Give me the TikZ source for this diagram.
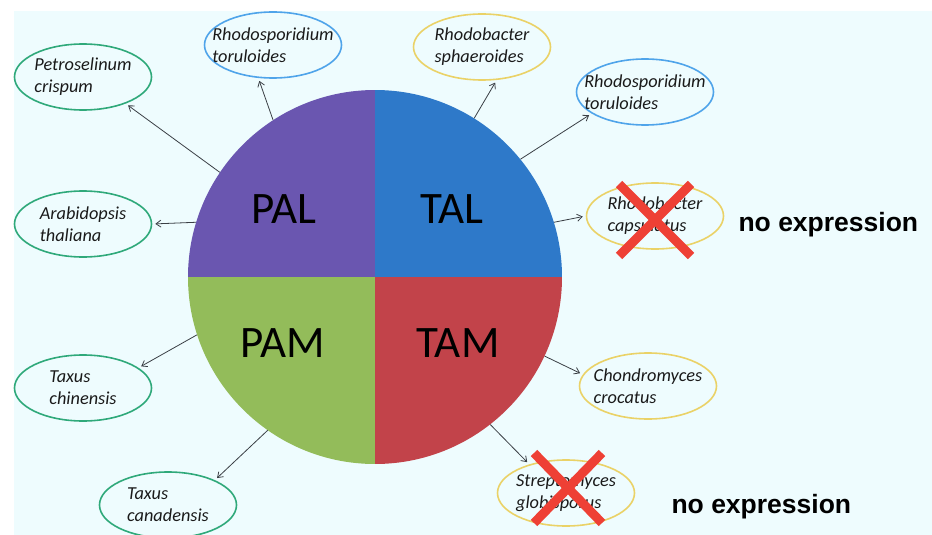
\documentclass[tikz,border=0pt]{standalone}
\usepackage{fontspec}
\setmainfont{Carlito}
\newfontfamily\arialfont{Liberation Sans}
\usetikzlibrary{arrows.meta, shapes.geometric}
\definecolor{bgcyan}{HTML}{EEFCFE}
\definecolor{palcol}{HTML}{6A56B0}
\definecolor{talcol}{HTML}{2E79C9}
\definecolor{pamcol}{HTML}{93BC5A}
\definecolor{tamcol}{HTML}{C2434A}
\definecolor{greenring}{HTML}{2FA97A}
\definecolor{bluering}{HTML}{4FA4EA}
\definecolor{yellowring}{HTML}{EAD267}
\definecolor{xred}{HTML}{EE4035}
\definecolor{linkgray}{HTML}{3A3F45}
\definecolor{txtdark}{HTML}{1A1A1A}

\begin{document}
\begin{tikzpicture}[x=1pt, y=-1pt,
  every node/.style={font=\fontsize{17}{21}\selectfont},
  organism/.style={ellipse, draw, line width=1.6pt, minimum width=137pt, minimum height=66pt, inner xsep=-16pt, inner ysep=2pt, align=left, font=\fontsize{18.3}{22}\selectfont\itshape, text=txtdark},
  enzyme/.style={anchor=base, font=\fontsize{45}{52}\selectfont, text=black},
  link/.style={-{Straight Barb[length=5pt, width=7pt]}, draw=linkgray, line width=0.8pt, shorten >=3pt},
  cross/.style={draw=xred, line width=9pt},
  noexp/.style={anchor=base west, font=\arialfont\bfseries\fontsize{26.5}{30}\selectfont},
]
\useasboundingbox (0,0) rectangle (932,535);
\fill[white] (0,0) rectangle (932,535);
\fill[bgcyan] (14,11) rectangle (932,535);

% Wheel
\node[circle, minimum size=374pt, inner sep=0pt, path picture={
  \fill[palcol] (path picture bounding box.north west) rectangle (path picture bounding box.center);
  \fill[talcol] (path picture bounding box.north east) rectangle (path picture bounding box.center);
  \fill[pamcol] (path picture bounding box.south west) rectangle (path picture bounding box.center);
  \fill[tamcol] (path picture bounding box.south east) rectangle (path picture bounding box.center);
}] (wheel) at (375,277) {};
\node[enzyme] (pal) at (284,223) {PAL};
\node[enzyme] (tal) at (452,223) {TAL};
\node[enzyme] (pam) at (283,357) {PAM};
\node[enzyme] (tam) at (458,357) {TAM};

% Organisms
\node[organism, draw=greenring] (pcrisp) at (83,77) {Petroselinum\\crispum};
\node[organism, draw=bluering] (rtorA) at (273,45) {Rhodosporidium\\toruloides};
\node[organism, draw=greenring] (athal) at (83,224) {Arabidopsis\\thaliana};
\node[organism, draw=yellowring] (rsph) at (482,47) {Rhodobacter\\sphaeroides};
\node[organism, draw=bluering] (rtorB) at (645,92) {Rhodosporidium\\toruloides};
\node[organism, draw=yellowring] (rcaps) at (655,216) {Rhodobacter\\capsulatus};
\node[organism, draw=yellowring] (ccroc) at (648,386) {Chondromyces\\crocatus};
\node[organism, draw=yellowring] (sglob) at (566,493) {Streptomyces\\globisporus};
\node[organism, draw=greenring] (tchin) at (83,388) {Taxus\\chinensis};
\node[organism, draw=greenring] (tcan) at (168,505) {Taxus\\canadensis};

% Arrows
\draw[link] (wheel.146) -- (pcrisp.-32);
\draw[link] (wheel.123) -- (rtorA.-114);
\draw[link] (wheel.163) -- (athal.0);
\draw[link] (wheel.58) -- (rsph.-66);
\draw[link] (wheel.39) -- (rtorB.202);
\draw[link] (wheel.17) -- (rcaps.180);
\draw[link] (wheel.-25) -- (ccroc.170);
\draw[link] (wheel.-52) -- (sglob.142);
\draw[link] (wheel.198) -- (tchin.20);
\draw[link] (wheel.235) -- (tcan.28);

% No expression
\draw[cross] ([shift={(-36,-32)}]rcaps.center) -- ([shift={(36,40)}]rcaps.center);
\draw[cross] ([shift={(36,-32)}]rcaps.center) -- ([shift={(-36,40)}]rcaps.center);
\draw[cross] ([shift={(-32,-40)}]sglob.center) -- ([shift={(36,30)}]sglob.center);
\draw[cross] ([shift={(36,-40)}]sglob.center) -- ([shift={(-32,30)}]sglob.center);
\node[noexp] (noexpA) at (735,231) {no expression};
\node[noexp] (noexpB) at (668,513) {no expression};
\end{tikzpicture}
\end{document}
